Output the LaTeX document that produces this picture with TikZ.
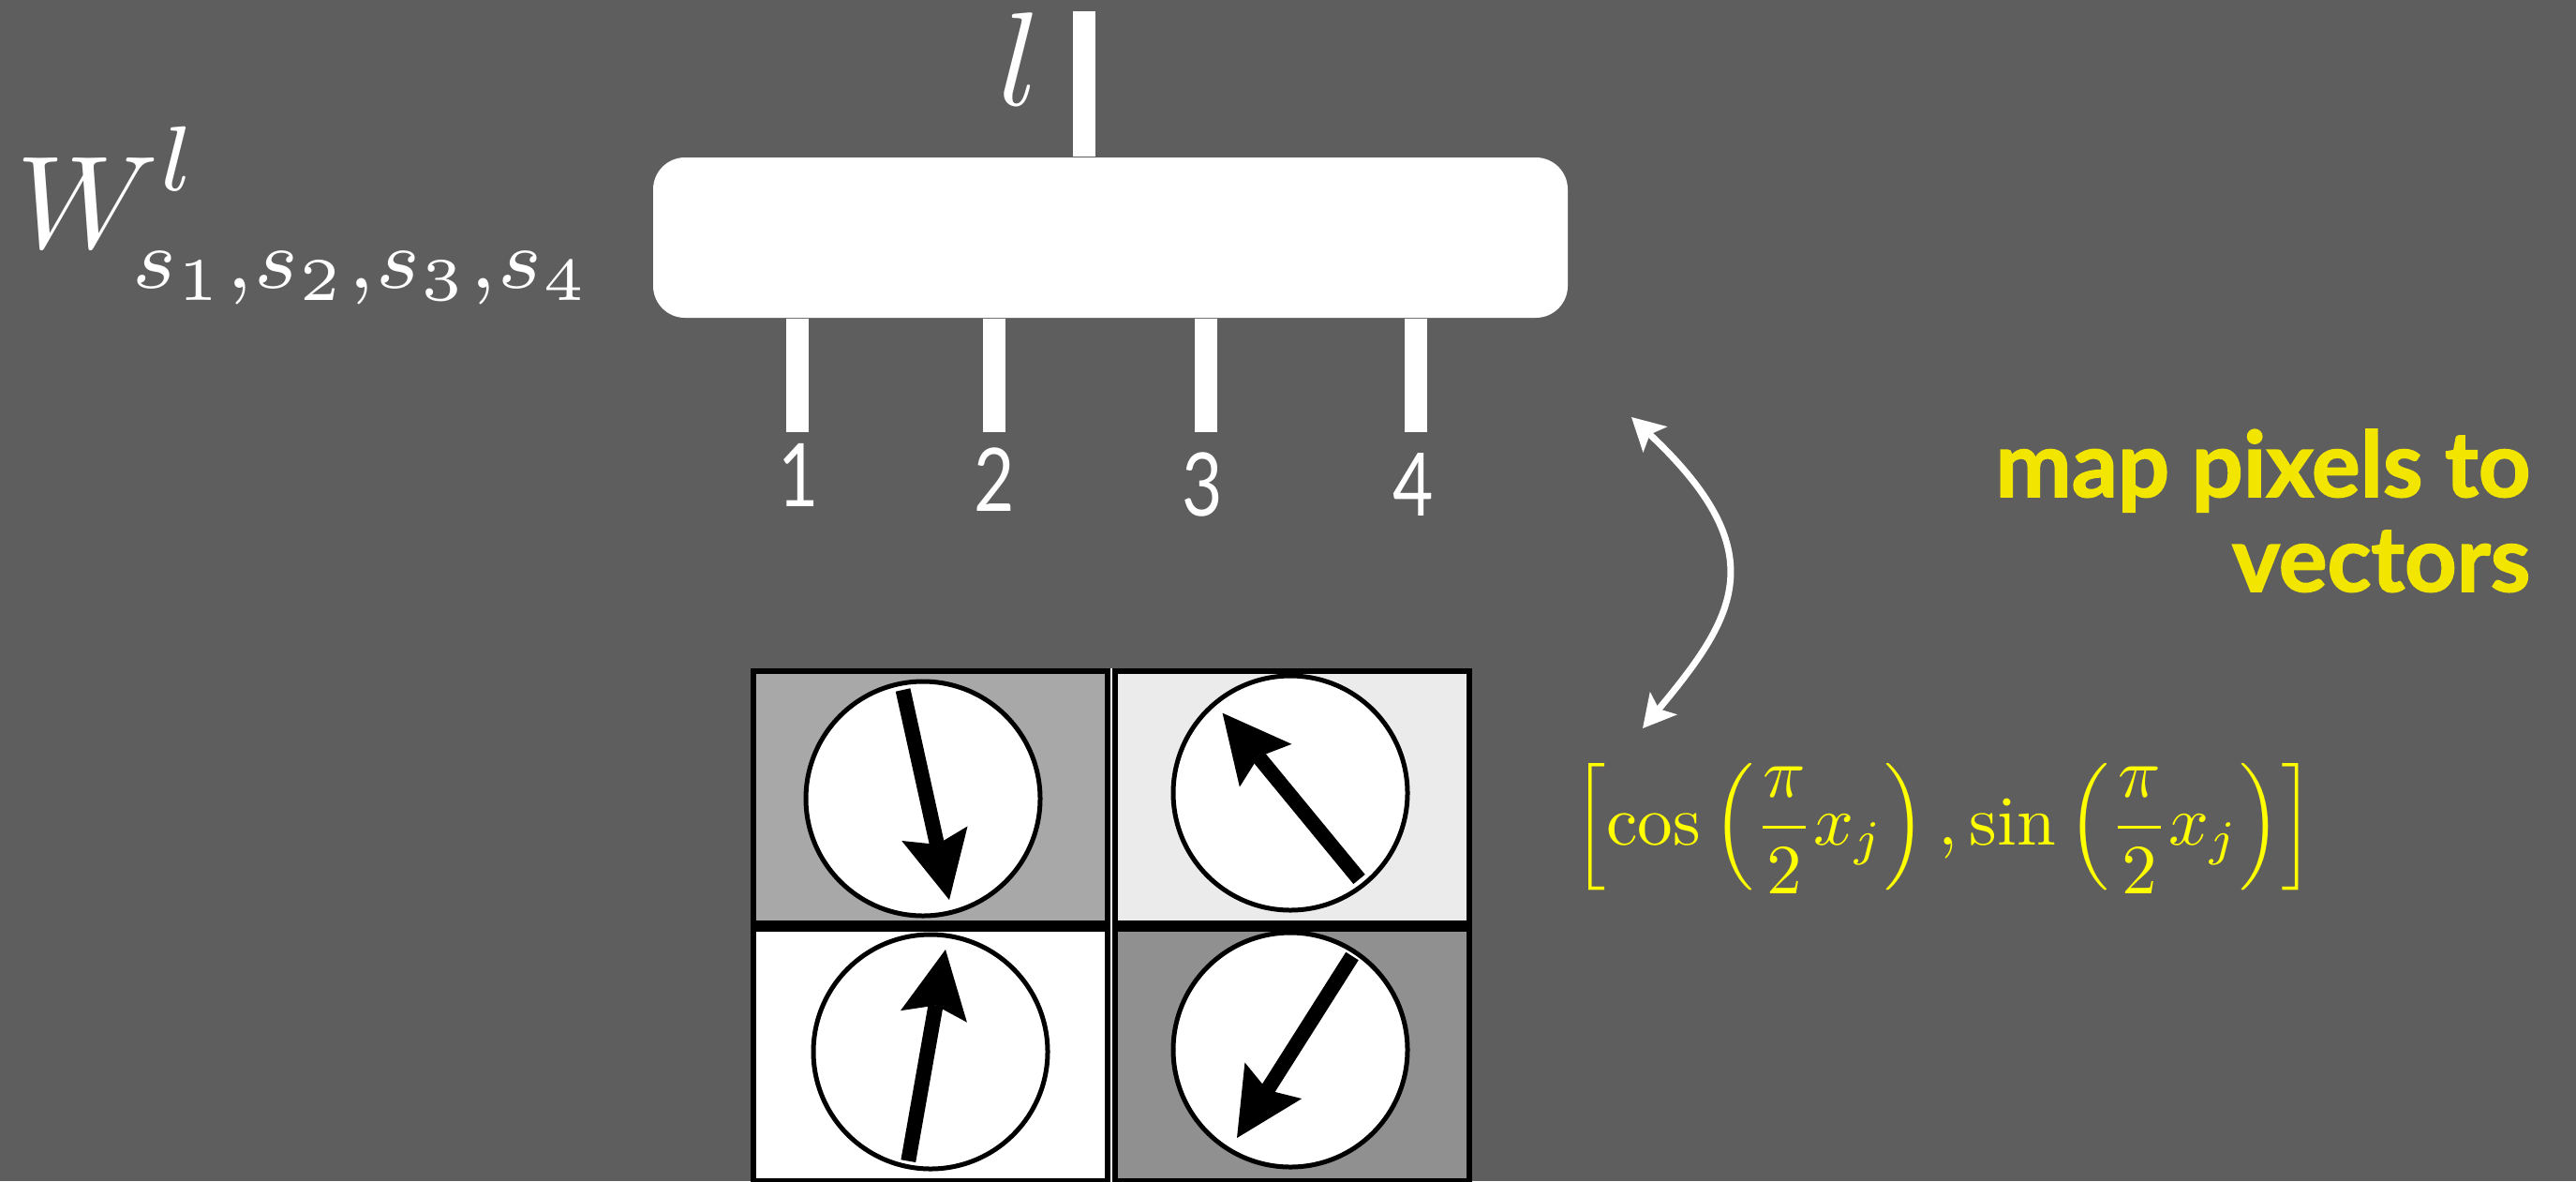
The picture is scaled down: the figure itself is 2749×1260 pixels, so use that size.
\documentclass[tikz,border=0pt]{standalone}
\usepackage{fontspec}
\newfontfamily\lato{Lato}[BoldFeatures={FakeBold=1.6}]
\usetikzlibrary{arrows.meta}
\definecolor{bg}{HTML}{5E5E5E}
\definecolor{ylw}{HTML}{F2E600}
\definecolor{fylw}{HTML}{FFFF00}
\definecolor{gA}{HTML}{A8A8A8}
\definecolor{gB}{HTML}{EBEBEB}
\definecolor{gC}{HTML}{909090}
\newcommand\mysubs{\scalebox{0.92}{$\scriptstyle s_1,s_2,s_3,s_4$}}
\begin{document}
\begin{tikzpicture}[x=0.1mm,y=-0.1mm,
  leg/.style={line width=2.4mm, white},
  cell/.style={draw=black, line width=0.6mm, minimum width=37.8mm, minimum height=26.9mm, inner sep=0pt, outer sep=0pt},
  dial/.style={circle, draw=black, fill=white, line width=0.5mm, minimum size=25mm, inner sep=0pt},
  needle/.style={line width=1.6mm, black, -{Stealth[length=7.25mm, width=7.2mm, inset=1.2mm, line width=0pt]}},
  digit/.style={text=white, font=\lato\fontsize{26.6}{30}\selectfont, anchor=base, inner sep=0pt},
  bigmath/.style={text=white, inner sep=0pt},
  ytext/.style={text=ylw, font=\lato\bfseries\fontsize{27.6}{32}\selectfont, anchor=base east, inner sep=0pt},
  swing/.style={white, line width=0.7mm, {Stealth[length=3.5mm, width=3.8mm, inset=0.8mm, line width=0pt]}-{Stealth[length=3.5mm, width=3.8mm, inset=0.8mm, line width=0pt]}}
]
\useasboundingbox (0,0) rectangle (2749,1260);
\fill[bg] (0,0) rectangle (2749,1260);

% tensor box
\node[fill=white, rounded corners=3.4mm, minimum width=97.6mm, minimum height=17.1mm, inner sep=0pt] (box) at (1185,253.5) {};
\coordinate (ltop) at (1157,12);
\draw[leg] (ltop) -- (ltop |- box.north);
\coordinate (l1) at (851,461);
\coordinate (l2) at (1061,461);
\coordinate (l3) at (1287,461);
\coordinate (l4) at (1511,461);
\foreach \i in {1,2,3,4} \draw[leg] (box.south -| l\i) -- (l\i);

\node[digit] (d1) at (852,540) {\scalebox{0.8}[1]{1}};
\node[digit] (d2) at (1061,545) {\scalebox{0.8}[1]{2}};
\node[digit] (d3) at (1283,550) {\scalebox{0.8}[1]{3}};
\node[digit] (d4) at (1508,550) {\scalebox{0.8}[1]{4}};

\node[bigmath, anchor=base] (lab) at (1088,112) {\scalebox{4.05}{$l$}};
\node[bigmath, anchor=base west] (wlab) at (17,264)
  {\scalebox{4}{$W^{\raisebox{0.7pt}{$\scriptstyle l$}}_{\mkern-1.5mu\raisebox{-0.6pt}{\mysubs}}$}};

% grid
\fill[white] (801,713) rectangle (1571,1262);
\node[cell, fill=gA] (c11) at (993,850.5) {};
\node[cell, fill=gB] (c12) at (1379,850.5) {};
\node[cell, fill=white] (c21) at (993,1125.5) {};
\node[cell, fill=gC] (c22) at (1379,1125.5) {};

\node[dial] (k11) at (985,852) {};
\node[dial] (k12) at (1377,846) {};
\node[dial] (k21) at (993,1122) {};
\node[dial] (k22) at (1377,1120) {};

\coordinate (t11) at (963.6,736);   \coordinate (h11) at (1013,960);
\coordinate (t12) at (1450.5,938);  \coordinate (h12) at (1304.6,760.7);
\coordinate (t21) at (969.3,1238.6);\coordinate (h21) at (1009,1013);
\coordinate (t22) at (1443,1020);   \coordinate (h22) at (1320,1214);
\draw[needle] (t11) -- (h11);
\draw[needle] (t12) -- (h12);
\draw[needle] (t21) -- (h21);
\draw[needle] (t22) -- (h22);

% curved double arrow
\coordinate (ua) at (1741,445);
\coordinate (ub) at (1753,777);
\draw[swing] (ua) .. controls (1894,589) and (1853,657) .. (ub);

% yellow text
\node[ytext] (m1) at (2701,530) {map pixels to};
\node[ytext] (m2) at (2701,631) {vectors};

\node[text=fylw, anchor=west, inner sep=0pt] (formula) at (1678,884)
  {\scalebox{2.14}{$\displaystyle \left[\cos\left(\frac{\pi}{2}x_j\right),\sin\left(\frac{\pi}{2}x_j\right)\right]$}};
\end{tikzpicture}
\end{document}
